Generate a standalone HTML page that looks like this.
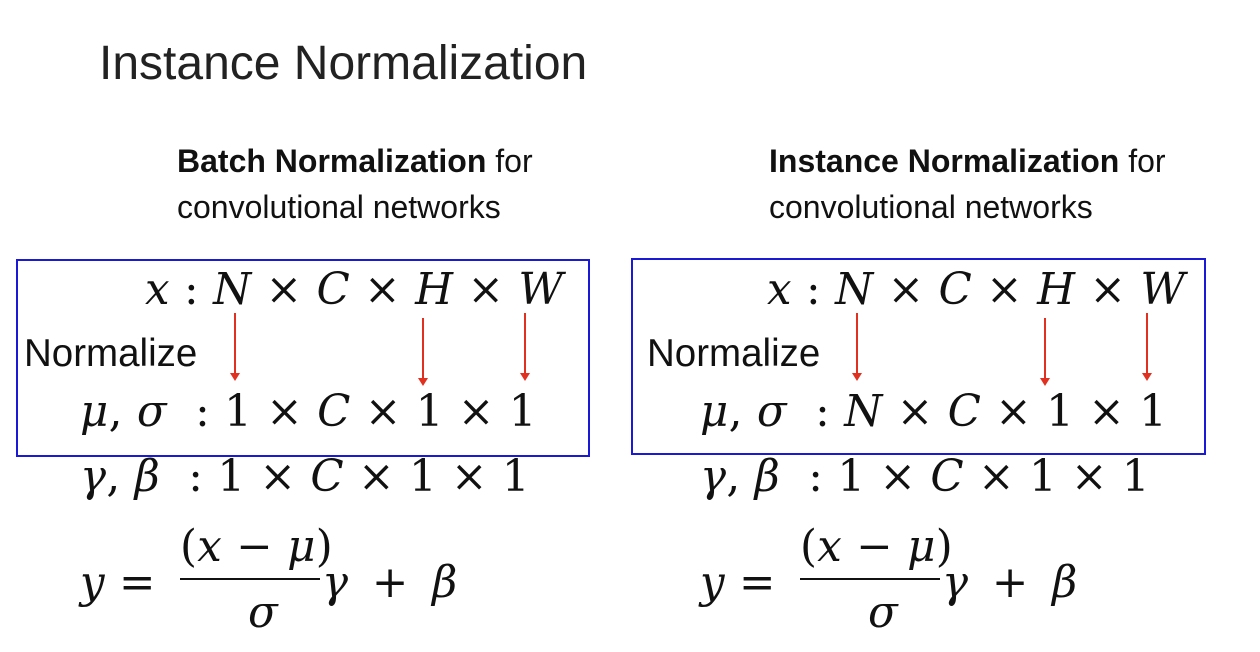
<!DOCTYPE html>
<html><head><meta charset="utf-8"><style>
body{margin:0;width:1260px;height:652px;background:#fff;position:relative;overflow:hidden;font-family:"Liberation Sans",sans-serif;color:#111}
.a{position:absolute;white-space:nowrap;line-height:1}
.m{font-family:"DejaVu Serif","Liberation Serif",serif;font-size:43.5px;letter-spacing:0.3px}
.i{font-style:italic}
.box{position:absolute;border:2px solid #1a1ad6}
.ar{position:absolute;width:2px;background:#e03020}
.ar:after{content:"";position:absolute;left:-4px;bottom:-6px;border-left:5px solid transparent;border-right:5px solid transparent;border-top:8px solid #e03020}
.bar{position:absolute;height:2px;background:#111}
</style></head><body>
<div class="a" style="left:99px;top:40px;font-size:48px;color:#222">Instance Normalization</div>

<div class="a" style="left:177px;top:145px;font-size:32px"><b>Batch Normalization</b> for</div>
<div class="a" style="left:177px;top:191px;font-size:32px">convolutional networks</div>
<div class="box" style="left:16px;top:259px;width:570px;height:194px"></div>
<div class="a m" style="left:145px;top:269px"><span class="i">x</span> : <span class="i">N</span> × <span class="i">C</span> × <span class="i">H</span> × <span class="i">W</span></div>
<div class="a" style="left:24px;top:335px;font-size:38.5px">Normalize</div>
<div class="ar" style="left:234px;top:313px;height:62px"></div>
<div class="ar" style="left:422px;top:318px;height:62px"></div>
<div class="ar" style="left:524px;top:313px;height:62px"></div>
<div class="a m" style="left:80px;top:391px"><span class="i">μ</span>, <span class="i">σ</span>&nbsp; : 1 × <span class="i">C</span> × 1 × 1</div>
<div class="a m" style="left:80px;top:456px"><span class="i">γ</span>, <span class="i">β</span>&nbsp; : 1 × <span class="i">C</span> × 1 × 1</div>
<div class="a m" style="left:80px;top:562px"><span class="i">y</span> =</div>
<div class="a m" style="left:180px;top:526px">(<span class="i">x</span> − <span class="i">μ</span>)</div>
<div class="bar" style="left:180px;top:578px;width:140px"></div>
<div class="a m i" style="left:248px;top:592px">σ</div>
<div class="a m" style="left:322px;top:562px;letter-spacing:5px"><span class="i">γ</span> + <span class="i">β</span></div>

<div class="a" style="left:769px;top:145px;font-size:32px"><b>Instance Normalization</b> for</div>
<div class="a" style="left:769px;top:191px;font-size:32px">convolutional networks</div>
<div class="box" style="left:631px;top:258px;width:571px;height:193px"></div>
<div class="a m" style="left:767px;top:269px"><span class="i">x</span> : <span class="i">N</span> × <span class="i">C</span> × <span class="i">H</span> × <span class="i">W</span></div>
<div class="a" style="left:647px;top:335px;font-size:38.5px">Normalize</div>
<div class="ar" style="left:856px;top:313px;height:62px"></div>
<div class="ar" style="left:1044px;top:318px;height:62px"></div>
<div class="ar" style="left:1146px;top:313px;height:62px"></div>
<div class="a m" style="left:700px;top:391px"><span class="i">μ</span>, <span class="i">σ</span>&nbsp; : <span class="i">N</span> × <span class="i">C</span> × 1 × 1</div>
<div class="a m" style="left:700px;top:456px"><span class="i">γ</span>, <span class="i">β</span>&nbsp; : 1 × <span class="i">C</span> × 1 × 1</div>
<div class="a m" style="left:700px;top:562px"><span class="i">y</span> =</div>
<div class="a m" style="left:800px;top:526px">(<span class="i">x</span> − <span class="i">μ</span>)</div>
<div class="bar" style="left:800px;top:578px;width:140px"></div>
<div class="a m i" style="left:868px;top:592px">σ</div>
<div class="a m" style="left:942px;top:562px;letter-spacing:5px"><span class="i">γ</span> + <span class="i">β</span></div>
</body></html>
